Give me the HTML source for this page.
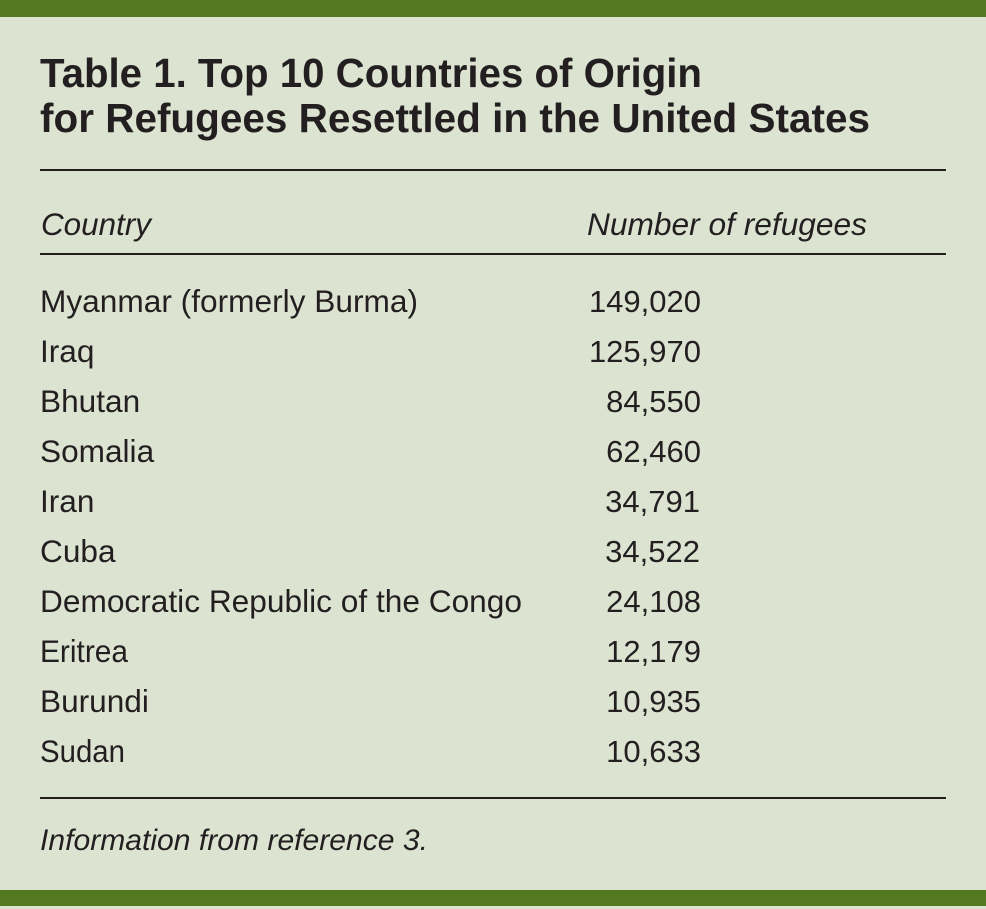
<!DOCTYPE html>
<html>
<head>
<meta charset="utf-8">
<style>
  html, body { margin: 0; padding: 0; }
  body { width: 986px; height: 909px; overflow: hidden; background: #dce3d0; }
  svg { display: block; }
  text { fill: #231f20; font-family: "Liberation Sans", sans-serif; }
  .t { font-weight: bold; font-size: 40.5px; }
  .h { font-style: italic; font-size: 31.6px; }
  .r { font-size: 31.6px; }
  .n { font-size: 31px; text-anchor: end; }
  .f { font-style: italic; font-size: 30px; }
</style>
</head>
<body>
<svg width="986" height="909" viewBox="0 0 986 909" xmlns="http://www.w3.org/2000/svg">
  <rect x="0" y="0" width="986" height="909" fill="#dce3d0"/>
  <rect x="0" y="0" width="986" height="17" fill="#52791f"/>
  <rect x="0" y="890" width="986" height="16" fill="#52791f"/>

  <text class="t" x="40" y="87" textLength="662" lengthAdjust="spacingAndGlyphs">Table 1. Top 10 Countries of Origin</text>
  <text class="t" x="40" y="132" textLength="830" lengthAdjust="spacingAndGlyphs">for Refugees Resettled in the United States</text>

  <rect x="40" y="169" width="906" height="2" fill="#231f20"/>
  <text class="h" x="41" y="235" textLength="110" lengthAdjust="spacingAndGlyphs">Country</text>
  <text class="h" x="587" y="235" textLength="280" lengthAdjust="spacingAndGlyphs">Number of refugees</text>
  <rect x="40" y="253" width="906" height="2" fill="#231f20"/>

  <text class="r" x="40" y="312" textLength="378" lengthAdjust="spacingAndGlyphs">Myanmar (formerly Burma)</text>
  <text class="r" x="40" y="362">Iraq</text>
  <text class="r" x="40" y="412">Bhutan</text>
  <text class="r" x="40" y="462">Somalia</text>
  <text class="r" x="40" y="512">Iran</text>
  <text class="r" x="40" y="562">Cuba</text>
  <text class="r" x="40" y="612" textLength="482" lengthAdjust="spacingAndGlyphs">Democratic Republic of the Congo</text>
  <text class="r" x="40" y="662" textLength="88" lengthAdjust="spacingAndGlyphs">Eritrea</text>
  <text class="r" x="40" y="712">Burundi</text>
  <text class="r" x="40" y="762" textLength="85" lengthAdjust="spacingAndGlyphs">Sudan</text>

  <text class="n" x="701" y="312">149,020</text>
  <text class="n" x="701" y="362">125,970</text>
  <text class="n" x="701" y="412">84,550</text>
  <text class="n" x="701" y="462">62,460</text>
  <text class="n" x="700" y="512">34,791</text>
  <text class="n" x="700" y="562">34,522</text>
  <text class="n" x="701" y="612">24,108</text>
  <text class="n" x="701" y="662">12,179</text>
  <text class="n" x="701" y="712">10,935</text>
  <text class="n" x="701" y="762">10,633</text>

  <rect x="40" y="797" width="906" height="2" fill="#231f20"/>
  <text class="f" x="40" y="850" textLength="388" lengthAdjust="spacingAndGlyphs">Information from reference 3.</text>
</svg>
</body>
</html>
